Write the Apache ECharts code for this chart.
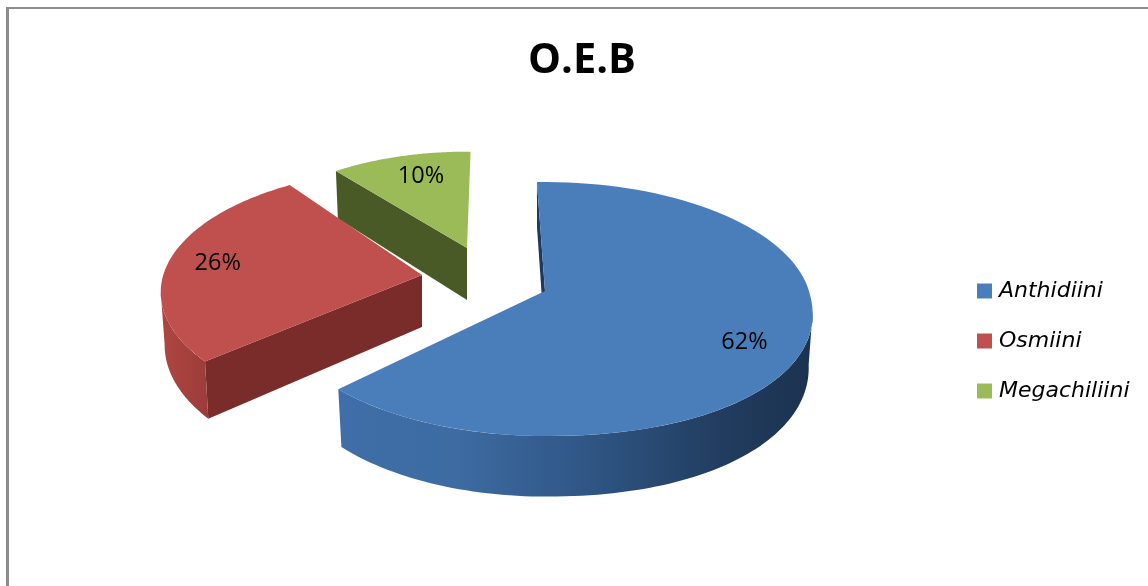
<!DOCTYPE html>
<html>
<head>
<meta charset="utf-8">
<style>html,body{margin:0;padding:0;background:#fff}#c{width:1148px;height:586px}</style>
<script src="https://cdn.jsdelivr.net/npm/echarts@6/dist/echarts.min.js"></script>
</head>
<body>
<div id="c"></div>
<script>
var categories = ['Anthidiini', 'Osmiini', 'Megachiliini'];
var values = [62, 26, 10];
var titleText = 'O.E.B';

// view geometry of the tilted disc (style, not data)
var startAngle = -2, rx = 264, ry = 124.4, persp = 0.1419, thick = 52, bottomShrink = 0.985, squareness = 0.93;
var apexes = [[545, 291], [422, 275], [467, 248]];   // exploded slice origins
var radii = [1, 0.98, 0.87];
var edgeNudge = [[0, -1], [4, 4], [0, 3]];           // small per-slice view rotation of the edges
var labelNudge = [[-2, 12], [-7, 1], [7, 2]];
var topColors = ['#4a7ebb', '#c0504d', '#9bbb59'];
var radialWall = ['#1d3a5e', '#7a2c2a', '#4a5a26'];
var outerWall = [
  {type:'linear',x:0,y:0,x2:1,y2:0,colorStops:[{offset:0,color:'#3f6ea8'},{offset:0.25,color:'#3d6ba2'},{offset:0.55,color:'#2e5482'},{offset:0.8,color:'#223d60'},{offset:1,color:'#1b324f'}]},
  {type:'linear',x:0,y:0,x2:1,y2:0,colorStops:[{offset:0,color:'#b04643'},{offset:1,color:'#9c3c39'}]},
  '#4a5a26'
];
var total = values.reduce(function (a, b) { return a + b; }, 0);

function project(i, deg, r, low) {
  var t = deg * Math.PI / 180;
  var u = Math.sin(t), v = -Math.cos(t);
  if (v > 0 && u > 0) {
    u = Math.pow(u, squareness);
    v = Math.pow(v, squareness);
  }
  u *= r; v *= r;
  var d = 1 - persp * v;
  var a = apexes[i];
  return [a[0] + rx * u / d * (low ? bottomShrink : 1), a[1] + ry * v / d + (low ? thick / d : 0)];
}
function sliceRange(i) {
  var s = startAngle;
  for (var k = 0; k < i; k++) s += values[k] / total * 360;
  return [s + edgeNudge[i][0], s + values[i] / total * 360 + edgeNudge[i][1]];
}
function arc(i, a0, a1, low) {
  var pts = [], n = 90;
  for (var k = 0; k <= n; k++) pts.push(project(i, a0 + (a1 - a0) * k / n, radii[i], low));
  return pts;
}
function renderSlice(i) {
  return function () {
    var rg = sliceRange(i), a0 = rg[0], a1 = rg[1], ap = apexes[i];
    var apexLow = [ap[0], ap[1] + thick];
    var topRim = arc(i, a0, a1, false);
    var poly = function (points, fill) { return {type:'polygon', shape:{points:points}, style:{fill:fill}}; };
    var mid = (a0 + a1) / 2, lp = project(i, mid, radii[i] * 0.78, false);
    var kids = [poly([ap, topRim[0], project(i, a0, radii[i], true), apexLow], radialWall[i])];
    // outer wall only over the part of the rim that faces the viewer
    var w0 = Math.max(a0, 98), w1 = Math.min(a1, 262);
    if (w1 > w0) {
      kids.push(poly(arc(i, w0, w1, false).concat(arc(i, w0, w1, true).reverse()), outerWall[i]));
    }
    kids.push(poly([ap].concat(topRim), topColors[i]));
    kids.push({type:'text', style:{text: values[i] + '%', x: lp[0] + labelNudge[i][0], y: lp[1] + labelNudge[i][1],
      font:'23.5px "Open Sans", Lato, sans-serif', fill:'#000', align:'center', verticalAlign:'middle'}});
    return {type:'group', children:kids};
  };
}
var zs = [3, 2, 1];
var series = categories.map(function (name, i) {
  return {type:'custom', name:name, coordinateSystem:'none', z:zs[i], silent:true,
    itemStyle:{color:topColors[i]}, data:[[values[i]]], renderItem:renderSlice(i), animation:false};
});
var chart = echarts.init(document.getElementById('c'), null, {renderer:'canvas'});
chart.setOption({
  animation:false,
  backgroundColor:'#fff',
  title:{text:titleText, left:577, top:35, textAlign:'center',
    textStyle:{fontFamily:'"Open Sans", Lato, sans-serif', fontSize:41.5, fontWeight:'bold', color:'#000'}},
  legend:{data:categories, orient:'vertical', left:972, top:275, itemWidth:15, itemHeight:15, itemGap:28,
    icon:'rect', selectedMode:false,
    textStyle:{fontFamily:'"DejaVu Sans", sans-serif', fontStyle:'italic', fontSize:22, color:'#000', lineHeight:15, padding:[0,0,0,2]}},
  graphic:[
    {type:'rect', left:6, top:7, shape:{width:1142, height:2}, style:{fill:'#8c8c8c'}},
    {type:'rect', left:6, top:7, shape:{width:3, height:579}, style:{fill:'#8c8c8c'}}
  ],
  series:series
});
</script>
</body>
</html>
